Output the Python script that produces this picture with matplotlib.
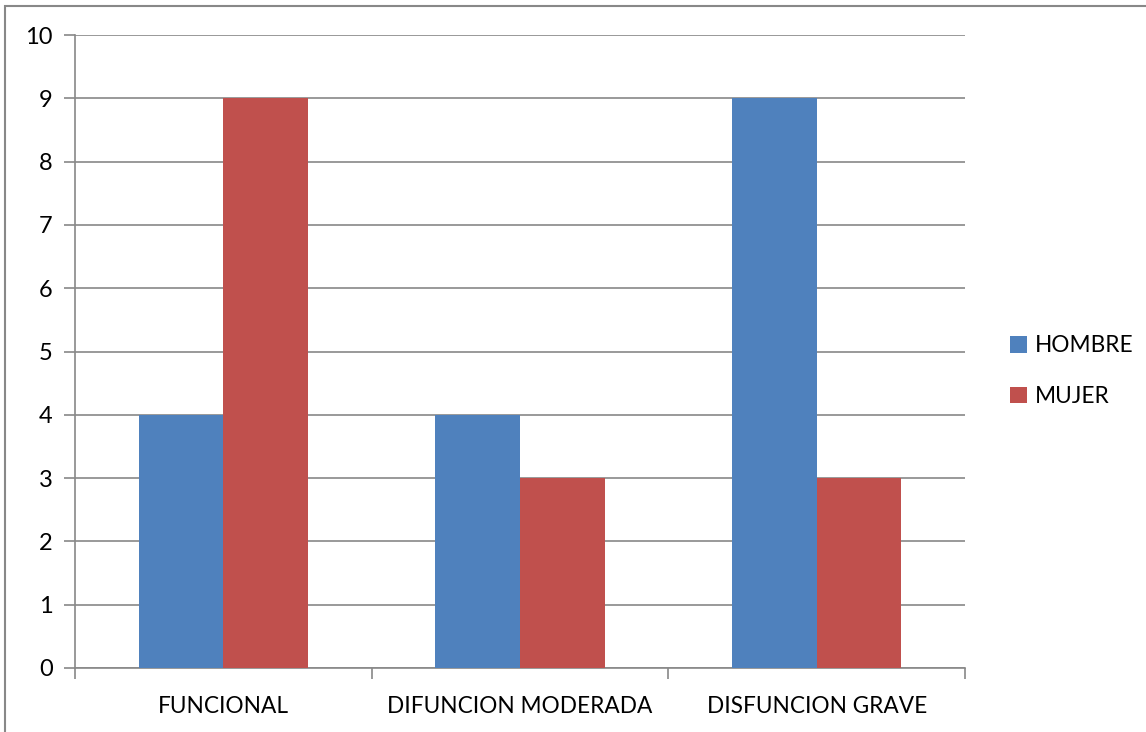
import matplotlib.pyplot as plt
import numpy as np
from matplotlib.patches import Rectangle

categories = ["FUNCIONAL", "DIFUNCION MODERADA", "DISFUNCION GRAVE"]
hombre = [4, 4, 9]
mujer = [9, 3, 3]
series_names = ["HOMBRE", "MUJER"]
y_ticks = list(range(0, 11))

BLUE = "#4F81BD"
RED = "#C0504D"
GRID = "#888888"

plt.rcParams["font.family"] = ["Lato", "DejaVu Sans"]

W, H = 1146, 732
fig = plt.figure(figsize=(W / 100, H / 100), dpi=100)
# axes box in pixels: left 75, right 965, top 35, bottom 668
ax = fig.add_axes([75 / W, 1 - 668 / H, (965 - 75) / W, (668 - 35) / H])

# outer chart border
fig.patches.append(Rectangle((5 / W, -0.05), 1.2, 1 - 6 / H + 0.05,
                             transform=fig.transFigure, fill=False,
                             edgecolor=GRID, linewidth=1.5))

x = np.arange(len(categories))
bw = 1 / 3.5
ax.bar(x - bw / 2, hombre, bw, color=BLUE, label=series_names[0], zorder=3)
ax.bar(x + bw / 2, mujer, bw, color=RED, label=series_names[1], zorder=3)

ax.set_xlim(-0.5, len(categories) - 0.5)
ax.set_ylim(0, 10)
ax.set_yticks(y_ticks)
ax.yaxis.grid(True, color=GRID, linewidth=1.2, zorder=0)

ax.set_xticks(x)
ax.set_xticklabels(categories)
ax.set_xticks(np.arange(len(categories) + 1) - 0.5, minor=True)
ax.tick_params(axis="x", which="major", length=0, pad=20, labelsize=16.3)
ax.tick_params(axis="x", which="minor", length=8, width=1.2, color=GRID)
ax.tick_params(axis="y", length=8, width=1.2, color=GRID, pad=8, labelsize=17)

for side in ["top", "right"]:
    ax.spines[side].set_visible(False)
for side in ["left", "bottom"]:
    ax.spines[side].set_color(GRID)
    ax.spines[side].set_linewidth(1.2)

fig.legend(loc="center left", bbox_to_anchor=(1001 / W, 1 - 371 / H),
           frameon=False, fontsize=16.3, handlelength=0.75, handleheight=0.75,
           handletextpad=0.35, labelspacing=1.3, borderaxespad=0)

fig.savefig("out.png", dpi=100)
